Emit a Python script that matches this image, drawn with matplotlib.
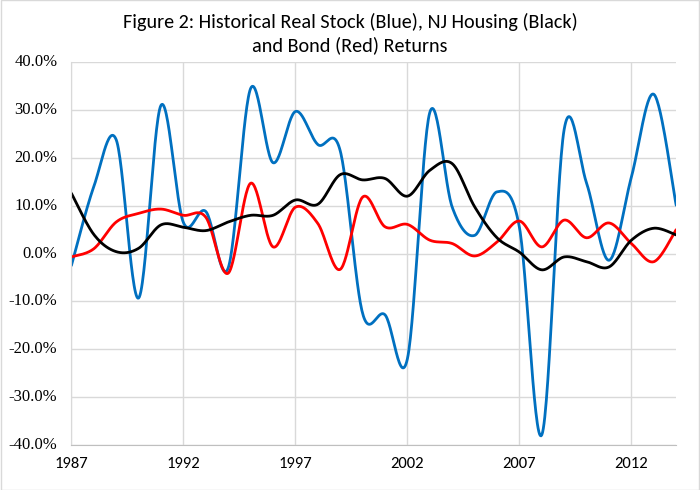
import numpy as np
import matplotlib
matplotlib.use("Agg")
import matplotlib.pyplot as plt
import matplotlib.transforms as mtransforms

years = list(range(1987, 2015))

# annual returns, percent
stock = [-2.5, 14.0, 23.8, -9.3, 31.0, 6.5, 8.8, -3.0, 34.5, 19.0,
         29.7, 22.8, 21.5, -12.5, -12.8, -22.0, 29.5, 9.7, 3.8, 12.9,
         5.5, -37.9, 26.0, 14.7, -1.4, 16.0, 33.3, 10.1]
housing = [12.6, 4.0, 0.4, 1.1, 6.0, 5.5, 4.8, 6.6, 8.0, 8.0,
           11.2, 10.3, 16.5, 15.4, 15.7, 12.0, 17.4, 18.8, 9.8, 3.3,
           0.3, -3.4, -0.7, -1.7, -2.8, 2.8, 5.3, 3.9]
bonds = [-0.7, 1.0, 6.6, 8.4, 9.3, 8.0, 7.6, -4.1, 14.7, 1.4,
         9.7, 6.3, -3.3, 11.8, 5.6, 6.1, 2.8, 2.1, -0.5, 2.4,
         6.8, 1.4, 7.0, 3.3, 6.4, 2.1, -1.7, 5.0]

yticks = [-40, -30, -20, -10, 0, 10, 20, 30, 40]
xticks = [1987, 1992, 1997, 2002, 2007, 2012]


def smooth(x, y, n=30):
    # Excel-style smoothed line (Catmull-Rom through the points)
    x = np.asarray(x, float)
    y = np.asarray(y, float)
    px = np.concatenate([[x[0]], x, [x[-1]]])
    py = np.concatenate([[y[0]], y, [y[-1]]])
    xs, ys = [], []
    t = np.linspace(0, 1, n, endpoint=False)
    for i in range(1, len(px) - 2):
        p0, p1, p2, p3 = px[i-1], px[i], px[i+1], px[i+2]
        q0, q1, q2, q3 = py[i-1], py[i], py[i+1], py[i+2]
        b1x, b1y = p1 + (p2 - p0) / 6, q1 + (q2 - q0) / 6
        b2x, b2y = p2 - (p3 - p1) / 6, q2 - (q3 - q1) / 6
        xs.append((1-t)**3*p1 + 3*(1-t)**2*t*b1x + 3*(1-t)*t**2*b2x + t**3*p2)
        ys.append((1-t)**3*q1 + 3*(1-t)**2*t*b1y + 3*(1-t)*t**2*b2y + t**3*q2)
    xs.append([x[-1]])
    ys.append([y[-1]])
    return np.concatenate(xs), np.concatenate(ys)


fig = plt.figure(figsize=(7, 4.9), dpi=100)
ax = fig.add_axes([0.102, 0.092, 0.864, 0.781])

for data, col in [(stock, "#0070C0"), (bonds, "#FF0000"), (housing, "#000000")]:
    sx, sy = smooth(years, data)
    ax.plot(sx, sy, color=col, lw=2.0, solid_capstyle="round")

ax.set_xlim(1987, 2014)
ax.set_ylim(-40, 40)
ax.set_xticks(xticks)
ax.set_yticks(yticks)
ax.tick_params(length=0, labelbottom=False, labelleft=False)
ax.grid(True, color="#D9D9D9", lw=1)
ax.set_axisbelow(True)
for s in ["top", "right"]:
    ax.spines[s].set_visible(False)
ax.spines["left"].set_color("#D9D9D9")
ax.spines["bottom"].set_color("#BFBFBF")

# tick labels: serif on y, Calibri-like on x
ytrans = mtransforms.offset_copy(ax.get_yaxis_transform(), fig=fig, x=-14, y=0, units="dots")
for v in yticks:
    ax.text(0, v, "%.1f%%" % v, transform=ytrans, ha="right", va="center",
            fontfamily="Liberation Serif", fontsize=12, clip_on=False)
xtrans = mtransforms.offset_copy(ax.get_xaxis_transform(), fig=fig, x=0, y=-12, units="dots")
for v in xticks:
    ax.text(v, 0, str(v), transform=xtrans, ha="center", va="top",
            fontfamily="Carlito", fontsize=12, clip_on=False)

fig.text(0.5, 0.955, "Figure 2: Historical Real Stock (Blue), NJ Housing (Black)",
         ha="center", va="center", fontfamily="Carlito", fontsize=14.5)
fig.text(0.5, 0.908, "and Bond (Red) Returns",
         ha="center", va="center", fontfamily="Carlito", fontsize=14.5)

fig.patches.append(plt.Rectangle((0.001, 0.001), 0.998, 0.998, transform=fig.transFigure,
                                 fill=False, edgecolor="#D9D9D9", lw=1))

fig.savefig("out.png", dpi=100)
